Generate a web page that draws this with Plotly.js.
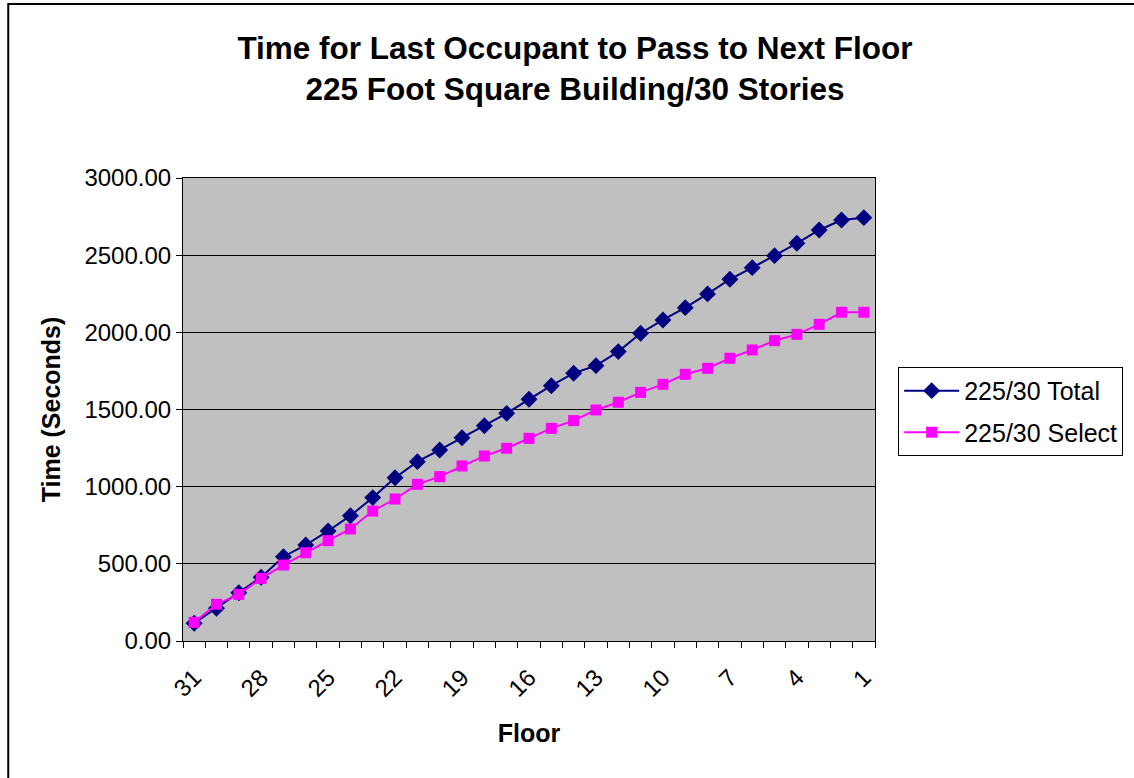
<!DOCTYPE html>
<html>
<head>
<meta charset="utf-8">
<script src="https://cdn.plot.ly/plotly-3.0.1.min.js"></script>
<style>
html,body{margin:0;padding:0;background:#fff;}
#chart{width:1134px;height:778px;}
</style>
</head>
<body>
<div id="chart"></div>
<script>
const floors = [31,30,29,28,27,26,25,24,23,22,21,20,19,18,17,16,15,14,13,12,11,10,9,8,7,6,5,4,3,2,1];
const totalTimes = [115,212,313,413,546,622,713,812,929,1058,1162,1238,1317,1395,1475,1566,1654,1735,1784,1875,1994,2080,2160,2249,2344,2419,2497,2577,2663,2728,2743];
const selectTimes = [121,238,302,406,492,572,650,726,842,920,1015,1065,1134,1199,1249,1313,1378,1428,1497,1547,1611,1663,1728,1767,1832,1886,1946,1987,2052,2130,2130];
const xTickLabels = [31,28,25,22,19,16,13,10,7,4,1];
const seriesNames = ['225/30 Total','225/30 Select'];
const titleLines = ['Time for Last Occupant to Pass to Next Floor','225 Foot Square Building/30 Stories'];

const FONT = 'Liberation Sans, Arial, sans-serif';

const traces = [
  {
    x: floors, y: totalTimes, name: seriesNames[0], type: 'scatter', mode: 'lines+markers',
    legendgroup: 'a',
    line: {color: '#000080', width: 2},
    marker: {symbol: 'diamond', size: 13, color: '#000080'}
  },
  {
    x: floors, y: selectTimes, name: seriesNames[1], type: 'scatter', mode: 'lines+markers',
    legendgroup: 'b',
    line: {color: '#FF00FF', width: 2},
    marker: {symbol: 'square', size: 11, color: '#FF00FF'}
  }
];

const layout = {
  width: 1134, height: 778,
  margin: {l: 183, r: 258, t: 178, b: 137},
  paper_bgcolor: '#ffffff',
  plot_bgcolor: '#C0C0C0',
  font: {family: FONT, color: '#000', size: 24},
  title: {
    text: '<b>' + titleLines.join('<br>') + '</b>',
    font: {family: FONT, size: 31.5, color: '#000'},
    xref: 'container', x: 0.507, xanchor: 'center',
    yref: 'container', y: 1 - 59 / 778, yanchor: 'middle'
  },
  xaxis: {
    range: [31.5, 0.5],
    tickmode: 'array', tickvals: xTickLabels, ticktext: xTickLabels.map(String),
    tickangle: -45, ticks: '', showgrid: false, zeroline: false,
    ticklabelstandoff: 12,
    showline: true, linecolor: '#000', linewidth: 1, mirror: true,
    tickfont: {family: FONT, size: 24},
    minor: {tickmode: 'linear', tick0: 0.5, dtick: 1, ticks: 'outside', ticklen: 6, tickcolor: '#000', tickwidth: 1, showgrid: false},
    title: {text: '<b>Floor</b>', font: {family: FONT, size: 25}, standoff: 23}
  },
  yaxis: {
    range: [0, 3000], dtick: 500, tickformat: '.2f',
    ticks: 'outside', ticklen: 6, tickcolor: '#000',
    showgrid: true, gridcolor: '#000', gridwidth: 1, zeroline: false,
    showline: true, linecolor: '#000', linewidth: 1, mirror: true,
    tickfont: {family: FONT, size: 24},
    title: {text: '<b>Time (Seconds)</b>', font: {family: FONT, size: 25}, standoff: 16}
  },
  legend: {
    x: 1.032, xanchor: 'left', y: 0.592, yanchor: 'top',
    bordercolor: '#000', borderwidth: 1, bgcolor: '#fff',
    font: {family: FONT, size: 25}, tracegroupgap: 6, itemwidth: 55
  },
  showlegend: true,
  shapes: [{
    type: 'rect', xref: 'paper', yref: 'paper',
    x0: (8 - 183) / 693, x1: (1200 - 183) / 693,
    y0: (641 - 800) / 463, y1: (641 - 4) / 463,
    line: {color: '#000', width: 2}, fillcolor: 'rgba(0,0,0,0)', layer: 'below'
  }]
};

Plotly.newPlot('chart', traces, layout, {displayModeBar: false, staticPlot: true});
</script>
</body>
</html>
